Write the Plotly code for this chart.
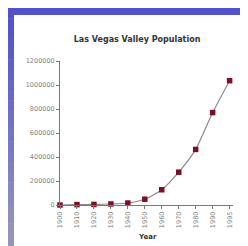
import plotly.graph_objects as go

years = ["1900", "1910", "1920", "1930", "1940", "1950", "1960", "1970", "1980", "1990", "1995"]
population = [0, 3321, 4859, 8532, 16414, 48289, 127016, 273288, 463087, 770000, 1036000]
y_ticks = [0, 200000, 400000, 600000, 800000, 1000000, 1200000]

W, H = 248, 246
L, R, T, B = 52, 23, 53, 49
PW, PH = W - L - R, H - T - B

def px(x):
    return (x - L) / PW

def py(y):
    return (H - B - y) / PH

fig = go.Figure()
fig.add_trace(go.Scatter(
    x=list(range(len(years))), y=population, mode="lines+markers",
    line=dict(color="#8a8a8a", width=1.2, shape="spline", smoothing=0.6),
    marker=dict(symbol="square", size=5.5, color="#7a1028"),
    cliponaxis=False, showlegend=False,
))

shapes = []
n = 24
c0 = (80, 80, 205)
c1 = (152, 154, 185)
for i in range(n):
    t = i / (n - 1)
    col = "rgb(%d,%d,%d)" % tuple(int(c0[k] + (c1[k] - c0[k]) * t) for k in range(3))
    y0p = i * H / n
    y1p = (i + 1) * H / n + 0.5
    shapes.append(dict(type="rect", xref="paper", yref="paper",
                       x0=px(0), x1=px(6), y0=py(y1p), y1=py(y0p),
                       fillcolor=col, line=dict(width=0), layer="below"))
shapes.append(dict(type="rect", xref="paper", yref="paper",
                   x0=px(0), x1=px(W), y0=py(7), y1=py(0),
                   fillcolor="rgb(82,82,204)", line=dict(width=0), layer="below"))
shapes.append(dict(type="rect", xref="paper", yref="paper",
                   x0=px(243), x1=px(W), y0=py(H), y1=py(7),
                   fillcolor="rgb(232,232,236)", line=dict(width=0), layer="below"))
shapes.append(dict(type="rect", xref="paper", yref="paper",
                   x0=px(6), x1=px(W), y0=py(H), y1=py(243),
                   fillcolor="rgb(205,205,210)", line=dict(width=0), layer="below"))

fig.update_layout(
    width=W, height=H,
    margin=dict(l=L, r=R, t=T, b=B),
    paper_bgcolor="white", plot_bgcolor="white",
    shapes=shapes,
    title=dict(text="<b>Las Vegas Valley Population</b>", x=px(142), xanchor="center",
               y=1 - 31 / H, yanchor="middle",
               font=dict(family="DejaVu Sans", size=8, color="#333333")),
    annotations=[dict(text="<b>Year</b>", xref="paper", yref="paper",
                      x=px(139), y=py(229), xanchor="center", yanchor="middle",
                      showarrow=False,
                      font=dict(family="DejaVu Sans", size=7, color="#333333"))],
    xaxis=dict(
        tickmode="array", tickvals=list(range(len(years))), ticktext=years,
        range=[0, 10.2], tickangle=-90,
        showline=True, linecolor="#777777", linewidth=1,
        ticks="outside", ticklen=3, tickcolor="#777777",
        showgrid=False, zeroline=False,
        tickfont=dict(family="DejaVu Sans", size=6.5, color="#808080"),
    ),
    yaxis=dict(
        range=[0, 1200000], tickvals=y_ticks, ticktext=[str(v) for v in y_ticks],
        showline=True, linecolor="#777777", linewidth=1,
        ticks="outside", ticklen=3, tickcolor="#777777",
        showgrid=False, zeroline=False,
        tickfont=dict(family="DejaVu Sans", size=6.5, color="#808080"),
    ),
)

fig.write_html("out.html")
